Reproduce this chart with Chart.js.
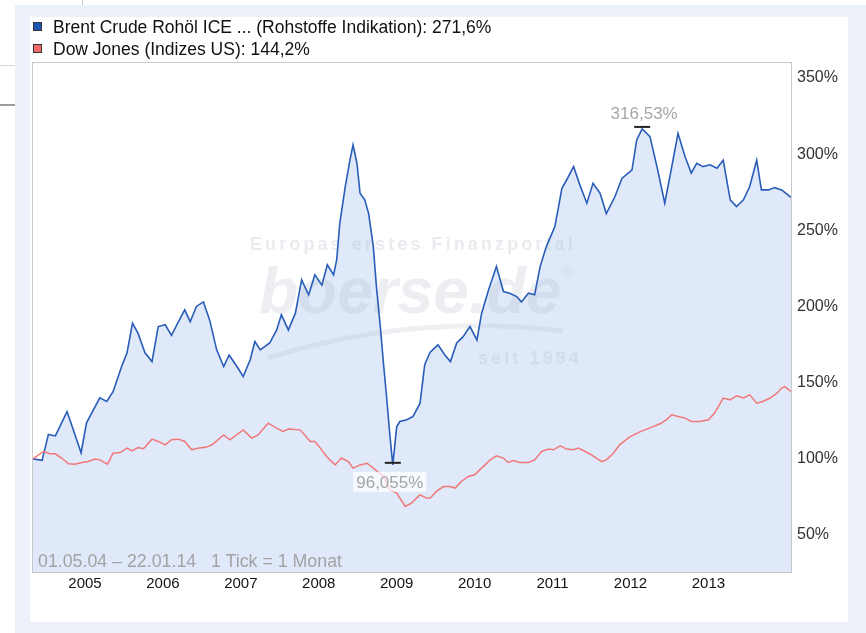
<!DOCTYPE html>
<html>
<head>
<meta charset="utf-8">
<script src="https://cdn.jsdelivr.net/npm/chart.js@4.4.1/dist/chart.umd.min.js"></script>
<style>
  html, body { margin: 0; padding: 0; background: #fff; }
  body { width: 866px; height: 633px; position: relative; overflow: hidden; font-family: "Liberation Sans", Arial, sans-serif; }
  .abs { position: absolute; }
  #outer { left: 15px; top: 5px; width: 851px; height: 628px; background: #edf2fa; }
  #inner { left: 30px; top: 17px; width: 818px; height: 605px; background: #fff; }
  #lineA { left: 0; top: 104px; width: 15px; height: 2px; background: #9a9a9a; }
  #lineB { left: 0; top: 65px; width: 15px; height: 1px; background: #d8d8d8; }
  #lineC { left: 82px; top: 0; width: 1px; height: 5px; background: #c8c8c8; }
  #chartWrap { left: 0; top: 0; width: 866px; height: 633px; }
  .sw { left: 33px; width: 7px; height: 7px; border: 1px solid #333; }
  .leg { left: 53px; font-size: 17.5px; color: #111; white-space: nowrap; line-height: 20px; }
  #range { left: 38px; top: 551px; font-size: 17.8px; line-height: 20px; color: #a3a3a3; white-space: pre; }
</style>
</head>
<body>
<div id="lineA" class="abs"></div>
<div id="lineB" class="abs"></div>
<div id="lineC" class="abs"></div>
<div id="outer" class="abs"></div>
<div id="inner" class="abs"></div>
<div id="chartWrap" class="abs"><canvas id="c" width="866" height="633"></canvas></div>
<div class="abs sw" style="top:22px;background:#1f56b5"></div>
<div class="abs sw" style="top:44px;background:#f26a6a"></div>
<div id="legText1" class="abs leg" style="top:17px"></div>
<div id="legText2" class="abs leg" style="top:39px"></div>
<div id="range" class="abs">01.05.04 – 22.01.14   1 Tick = 1 Monat</div>
<script>
// ---- Data (decimal years, index values in %) ----
const seriesNames = ["Brent Crude Rohöl ICE ... (Rohstoffe Indikation)", "Dow Jones (Indizes US)"];

const brentDates = [2004.33,2004.45,2004.53,2004.62,2004.77,2004.85,2004.95,2005.02,2005.19,2005.28,2005.36,2005.47,2005.54,2005.61,2005.68,2005.77,2005.86,2005.94,2006.03,2006.11,2006.20,2006.28,2006.35,2006.43,2006.52,2006.60,2006.69,2006.78,2006.85,2006.95,2007.03,2007.12,2007.18,2007.25,2007.37,2007.46,2007.52,2007.61,2007.70,2007.78,2007.87,2007.95,2008.04,2008.11,2008.19,2008.23,2008.27,2008.34,2008.40,2008.44,2008.49,2008.53,2008.59,2008.64,2008.70,2008.74,2008.79,2008.83,2008.87,2008.91,2008.95,2009.00,2009.04,2009.13,2009.21,2009.30,2009.36,2009.43,2009.53,2009.62,2009.69,2009.77,2009.85,2009.94,2010.03,2010.09,2010.18,2010.28,2010.37,2010.45,2010.54,2010.60,2010.69,2010.77,2010.84,2010.92,2011.03,2011.12,2011.18,2011.27,2011.35,2011.44,2011.52,2011.61,2011.69,2011.80,2011.89,2012.02,2012.08,2012.15,2012.25,2012.34,2012.44,2012.53,2012.61,2012.70,2012.78,2012.85,2012.93,2013.02,2013.11,2013.19,2013.28,2013.36,2013.45,2013.53,2013.62,2013.68,2013.77,2013.85,2013.94,2014.06];
const brentValues = [100,99,116,115,131,119,104,123.6,140,137.6,144,160.6,169.6,189,182.5,169.6,163.8,186.8,188,181,190,197.8,190,200,203,191,171.5,160.6,168,160.6,154,165,177,171.5,176,184.6,194.5,184.6,195.6,217.5,207.6,220.7,214,227.3,220.7,230.6,254.6,278.7,296,306,294,274.3,270,261,239.3,213,186.8,162.8,140.9,116.9,96.055,121,124.5,125.6,127.8,136.5,162,170,174.8,168,163.8,176,180,186.8,178,195.6,210.9,226.2,209.8,208.7,206.5,203,208.7,207.6,226,239.3,252.4,277.6,283,291.8,279.8,267.8,280.9,274.3,261,272,284,289.6,309.3,316.53,311.5,291.8,267.8,291.8,313.6,298.4,287.5,294,291.8,293,290.7,296,270,265.6,270,278.7,296,276.5,276.5,278,276.5,271.6];

const dowDates = [2004.33,2004.47,2004.55,2004.62,2004.70,2004.79,2004.87,2004.96,2005.04,2005.13,2005.19,2005.29,2005.36,2005.45,2005.54,2005.60,2005.68,2005.75,2005.86,2005.94,2006.03,2006.11,2006.20,2006.28,2006.37,2006.45,2006.56,2006.63,2006.78,2006.86,2007.03,2007.14,2007.22,2007.35,2007.46,2007.54,2007.61,2007.76,2007.82,2007.89,2007.95,2008.02,2008.10,2008.21,2008.29,2008.38,2008.44,2008.53,2008.62,2008.70,2008.83,2008.91,2009.00,2009.11,2009.19,2009.30,2009.38,2009.43,2009.51,2009.60,2009.68,2009.75,2009.83,2009.92,2010.00,2010.09,2010.20,2010.28,2010.37,2010.43,2010.50,2010.58,2010.69,2010.77,2010.86,2010.95,2011.01,2011.10,2011.18,2011.27,2011.33,2011.42,2011.50,2011.63,2011.69,2011.78,2011.86,2011.99,2012.12,2012.25,2012.38,2012.46,2012.53,2012.61,2012.70,2012.78,2012.89,2013.00,2013.08,2013.19,2013.28,2013.36,2013.45,2013.53,2013.62,2013.70,2013.79,2013.88,2013.94,2013.98,2014.06];
const dowValues = [100,104.8,103.3,103.3,100.5,96.7,96.5,97.6,98.2,99.8,99.3,96.5,103.7,104.1,107,105.2,107.4,106.6,112.9,111.4,109.2,112.5,112.9,111.4,105.9,107,107.7,109.2,115.7,112.5,119,113.6,115.7,123.4,120.1,117.9,119.5,119,115.7,111.4,111.4,107,101.5,96,100.5,98.2,93.9,96,97.1,93.9,88.4,79.7,77.5,68.7,70.9,76.4,74.2,74.2,78.6,81.8,81.8,80.8,85.1,88.4,89.5,93.9,99.3,102,100.5,97.6,98.9,97.6,97.6,99.3,104.8,106.4,105.9,108.5,106.4,105.9,107,104.8,102.6,98.2,99.3,103.7,109.2,114.4,117.7,120.3,123,125.6,128.9,127.8,126.7,124.5,124.5,125.6,130,139.9,138.7,141.3,139.9,142,136.5,137.6,139.9,143.1,146.4,147.4,144.2];

const yearTicks = [2005,2006,2007,2008,2009,2010,2011,2012,2013];
const percentTicks = [50,100,150,200,250,300,350];
const xRange = [2004.333, 2014.06];
const yRange = [25.7, 359.8];

// ---- helpers ----
const fmt = v => String(v).replace('.', ',') + '%';
const toPoints = (xs, ys) => xs.map((x, i) => ({ x: x, y: ys[i] }));

document.getElementById('legText1').textContent = seriesNames[0] + ': ' + fmt(brentValues[brentValues.length - 1]);
document.getElementById('legText2').textContent = seriesNames[1] + ': ' + fmt(dowValues[dowValues.length - 1]);

const FONT = '"Liberation Sans", Arial, sans-serif';

const framePlugin = {
  id: 'frame',
  beforeDatasetsDraw(chart) {
    const { ctx, chartArea: a } = chart;
    ctx.save();
    ctx.beginPath();
    ctx.rect(a.left, a.top, a.right - a.left, a.bottom - a.top);
    ctx.clip();
    // watermark
    ctx.fillStyle = 'rgba(185,192,205,0.32)';
    ctx.font = 'bold 18px ' + FONT;
    ctx.letterSpacing = '3.1px';
    ctx.textAlign = 'left';
    ctx.textBaseline = 'alphabetic';
    ctx.fillText('Europas erstes Finanzportal', a.left + 217, a.top + 187);
    ctx.fillText('seit 1994', a.left + 445, a.top + 301);
    ctx.letterSpacing = '0px';
    ctx.fillStyle = 'rgba(175,183,200,0.24)';
    ctx.font = 'italic bold 64px ' + FONT;
    ctx.fillText('boerse.de', a.left + 226, a.top + 250);
    ctx.font = '18px ' + FONT;
    ctx.fillText('®', a.left + 528, a.top + 215);
    ctx.strokeStyle = 'rgba(185,192,205,0.26)';
    ctx.lineWidth = 5;
    ctx.beginPath();
    ctx.moveTo(a.left + 235, a.top + 295);
    ctx.quadraticCurveTo(a.left + 380, a.top + 250, a.left + 530, a.top + 268);
    ctx.stroke();
    ctx.restore();
  },
  afterDatasetsDraw(chart) {
    const { ctx, chartArea: a, scales } = chart;
    const xs = scales.x, ys = scales.y;
    let iMax = 0, iMin = 0;
    brentValues.forEach((v, i) => { if (v > brentValues[iMax]) iMax = i; if (v < brentValues[iMin]) iMin = i; });
    ctx.save();
    ctx.font = '17px ' + FONT;
    ctx.textAlign = 'center';
    ctx.textBaseline = 'alphabetic';
    // max
    let px = xs.getPixelForValue(brentDates[iMax]);
    let py = ys.getPixelForValue(brentValues[iMax]);
    ctx.strokeStyle = '#222';
    ctx.lineWidth = 2;
    ctx.beginPath(); ctx.moveTo(px - 8, py - 2); ctx.lineTo(px + 8, py - 2); ctx.stroke();
    ctx.fillStyle = '#a6a6a6';
    ctx.fillText(fmt(brentValues[iMax]), px + 2, py - 10);
    // min
    px = xs.getPixelForValue(brentDates[iMin]);
    py = ys.getPixelForValue(brentValues[iMin]);
    ctx.beginPath(); ctx.moveTo(px - 8, py - 2); ctx.lineTo(px + 8, py - 2); ctx.stroke();
    const t = fmt(brentValues[iMin]);
    const w = ctx.measureText(t).width;
    ctx.fillStyle = 'rgba(255,255,255,0.7)';
    ctx.fillRect(px - 3 - w / 2 - 3, py + 7, w + 6, 20);
    ctx.fillStyle = '#a6a6a6';
    ctx.fillText(t, px - 3, py + 23);
    // frame
    ctx.strokeStyle = '#c9c9c9';
    ctx.lineWidth = 1;
    ctx.strokeRect(Math.round(a.left) - 0.5, Math.round(a.top) - 0.5, Math.round(a.right - a.left) + 1, Math.round(a.bottom - a.top) + 1);
    ctx.restore();
  }
};

new Chart(document.getElementById('c'), {
  type: 'line',
  data: {
    datasets: [
      {
        label: seriesNames[0],
        data: toPoints(brentDates, brentValues),
        borderColor: '#2a5db8',
        borderWidth: 1.6,
        backgroundColor: 'rgba(214,227,248,0.78)',
        fill: 'start',
        pointRadius: 0,
        tension: 0,
        order: 1
      },
      {
        label: seriesNames[1],
        data: toPoints(dowDates, dowValues),
        borderColor: '#f07878',
        borderWidth: 1.5,
        fill: false,
        pointRadius: 0,
        tension: 0,
        order: 0
      }
    ]
  },
  options: {
    responsive: false,
    animation: false,
    events: [],
    layout: { padding: { left: 33, top: 63, right: 15, bottom: 31 } },
    plugins: {
      legend: { display: false },
      tooltip: { enabled: false },
      filler: { drawTime: 'beforeDatasetsDraw' }
    },
    scales: {
      x: {
        type: 'linear',
        min: xRange[0],
        max: xRange[1],
        grid: { display: false, drawTicks: false },
        border: { display: false },
        afterBuildTicks: s => { s.ticks = yearTicks.map(v => ({ value: v })); },
        afterFit: s => { s.height = 30; },
        ticks: {
          color: '#111',
          font: { family: FONT, size: 15 },
          padding: 3,
          maxRotation: 0,
          autoSkip: false,
          callback: v => String(v)
        }
      },
      y: {
        type: 'linear',
        position: 'right',
        min: yRange[0],
        max: yRange[1],
        grid: { display: false, drawTicks: false },
        border: { display: false },
        afterBuildTicks: s => { s.ticks = percentTicks.map(v => ({ value: v })); },
        afterFit: s => { s.width = 60; },
        ticks: {
          color: '#333',
          font: { family: FONT, size: 16 },
          padding: 6,
          callback: v => v + '%'
        }
      }
    }
  },
  plugins: [framePlugin]
});
</script>
</body>
</html>
